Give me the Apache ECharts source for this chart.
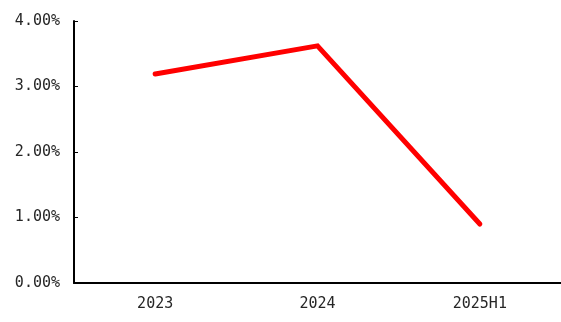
<!DOCTYPE html>
<html>
<head>
<meta charset="utf-8">
<script src="https://cdn.jsdelivr.net/npm/echarts@6/dist/echarts.min.js"></script>
<style>
  html, body { margin: 0; padding: 0; background: #fff; }
  #chart { width: 561px; height: 322px; }
</style>
</head>
<body>
<div id="chart"></div>
<script>
// Periods and rate values (%)
const categories = ['2023', '2024', '2025H1'];
const rateValues = [3.19, 3.62, 0.90];
const yTicks = { min: 0, max: 4, interval: 1 };

const labelFont = { fontFamily: '"DejaVu Sans Mono", monospace', fontSize: 15, color: '#262626' };

const chart = echarts.init(document.getElementById('chart'), null, { renderer: 'canvas' });
chart.setOption({
  animation: false,
  backgroundColor: '#fff',
  grid: { left: 74, right: 0, top: 21, bottom: 39, containLabel: false },
  xAxis: {
    type: 'category',
    data: categories,
    boundaryGap: true,
    axisLine: { lineStyle: { color: '#000', width: 2 } },
    axisTick: { inside: true, length: 5, lineStyle: { color: '#000', width: 1 } },
    axisLabel: Object.assign({ margin: 14 }, labelFont)
  },
  yAxis: {
    type: 'value',
    min: yTicks.min,
    max: yTicks.max,
    interval: yTicks.interval,
    splitLine: { show: false },
    axisLine: { show: true, lineStyle: { color: '#000', width: 2 } },
    axisTick: { show: true, inside: true, length: 4, lineStyle: { color: '#000', width: 1 } },
    axisLabel: Object.assign({ margin: 14, formatter: v => v.toFixed(2) + '%' }, labelFont)
  },
  series: [{
    type: 'line',
    data: rateValues,
    symbol: 'none',
    lineStyle: { color: '#ff0000', width: 5, cap: 'round', join: 'miter' }
  }]
});
</script>
</body>
</html>
